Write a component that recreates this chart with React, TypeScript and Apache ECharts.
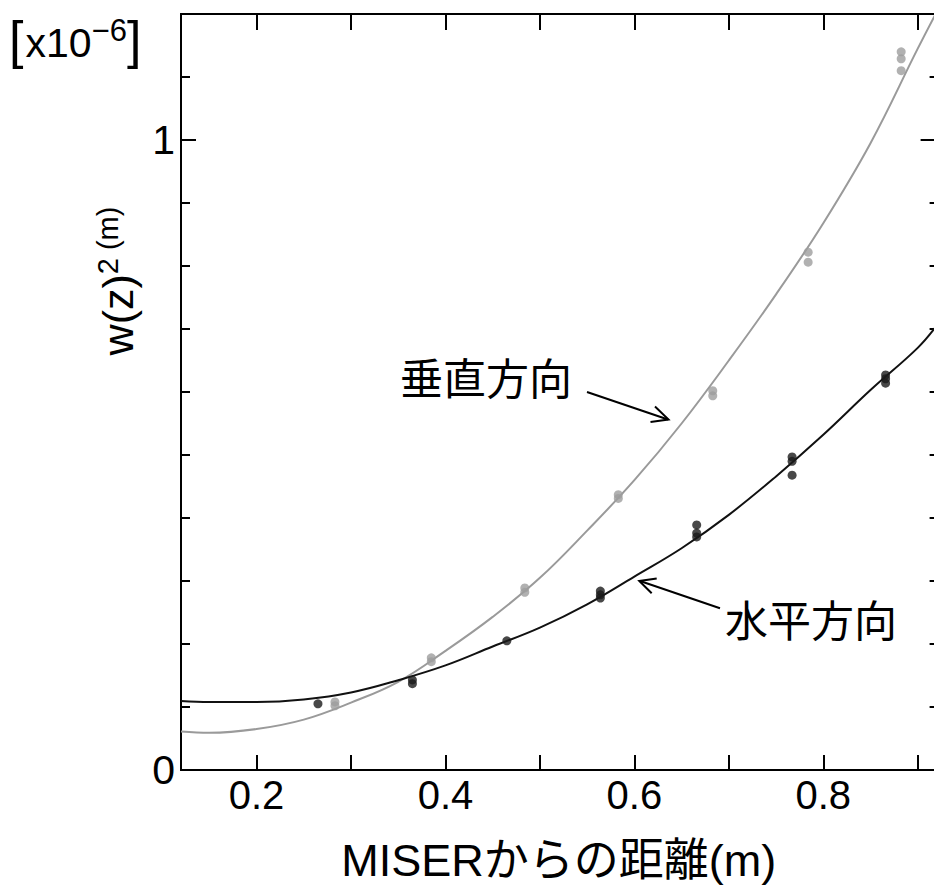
import React, { useEffect, useRef } from 'react';
import * as echarts from 'echarts';

const FONT = '"Liberation Sans", Arial, "Noto Sans CJK JP", sans-serif';
const CJK = '"Noto Sans CJK JP", "Liberation Sans", sans-serif';

// Axis ticks / labels
const xTickValues = [0.2, 0.3, 0.4, 0.5, 0.6, 0.7, 0.8, 0.9];
const xLabelValues = [0.2, 0.4, 0.6, 0.8];
const yMinorTickValues = [0.1, 0.2, 0.3, 0.4, 0.5, 0.6, 0.7, 0.8, 0.9, 1.0, 1.1];
const yMajorTickValues = [0, 1];

// 垂直方向 (vertical) measured points  [x10^-6 m^2]
const vertX = [0.283, 0.283, 0.385, 0.385, 0.484, 0.484, 0.583, 0.583, 0.683, 0.683, 0.784, 0.784, 0.8825, 0.8825, 0.8825];
const vertY = [0.108, 0.102, 0.178, 0.172, 0.289, 0.282, 0.437, 0.431, 0.602, 0.594, 0.822, 0.806, 1.140, 1.129, 1.110];

// 水平方向 (horizontal) measured points
const horzX = [0.265, 0.365, 0.365, 0.465, 0.564, 0.564, 0.564, 0.666, 0.666, 0.666, 0.767, 0.767, 0.767, 0.866, 0.866, 0.866];
const horzY = [0.105, 0.143, 0.137, 0.205, 0.284, 0.278, 0.273, 0.389, 0.376, 0.370, 0.497, 0.490, 0.468, 0.627, 0.621, 0.614];

// Fitted curves
const vertFitX = [0.12, 0.15, 0.2, 0.25, 0.3, 0.35, 0.4, 0.45, 0.5, 0.55, 0.6, 0.65, 0.7, 0.75, 0.8, 0.85, 0.9, 0.92];
const vertFitY = [0.061, 0.059, 0.065, 0.080, 0.107, 0.140, 0.189, 0.243, 0.305, 0.380, 0.460, 0.550, 0.650, 0.755, 0.868, 0.995, 1.145, 1.203];
const horzFitX = [0.12, 0.15, 0.2, 0.25, 0.3, 0.35, 0.4, 0.45, 0.5, 0.55, 0.6, 0.65, 0.7, 0.75, 0.8, 0.85, 0.9, 0.92];
const horzFitY = [0.1095, 0.108, 0.108, 0.112, 0.123, 0.1425, 0.166, 0.196, 0.226, 0.263, 0.307, 0.352, 0.405, 0.466, 0.532, 0.603, 0.670, 0.705];

const zip = (xs: number[], ys: number[]) => xs.map((x, i) => [x, ys[i]]);

export default function App() {
  const ref = useRef<HTMLDivElement>(null);
  useEffect(() => {
    if (!ref.current) return;
    const chart = echarts.init(ref.current, null, { renderer: 'svg' });
    const axisLineStyle = { color: '#000', width: 2 };
    const xBase = {
      type: 'value',
      min: 0.12,
      max: 0.92,
      splitLine: { show: false },
      axisLine: { show: true, onZero: false, lineStyle: axisLineStyle },
    };
    const yBase = {
      type: 'value',
      min: 0,
      max: 1.2,
      offset: 0,
      splitLine: { show: false },
      axisLine: { show: true, onZero: false, lineStyle: axisLineStyle },
    };
    chart.setOption({
      animation: false,
      backgroundColor: '#fff',
      grid: { left: 181, top: 14, width: 755.6, height: 756, containLabel: false, outerBoundsMode: 'none' },
      xAxis: [
        {
          ...xBase,
          position: 'bottom',
          axisTick: { show: true, inside: true, length: 15, customValues: xTickValues, lineStyle: axisLineStyle },
          axisLabel: {
            show: true,
            customValues: xLabelValues,
            fontSize: 40,
            margin: 5,
            color: '#000',
            fontFamily: FONT,
            formatter: (v: number) => v.toFixed(1),
          },
          name: 'MISERからの距離(m)',
          nameLocation: 'middle',
          nameGap: 68,
          nameTextStyle: { fontSize: 45, color: '#000', fontFamily: FONT },
        },
        {
          ...xBase,
          position: 'top',
          axisTick: { show: true, inside: true, length: 16, customValues: xTickValues, lineStyle: axisLineStyle },
          axisLabel: { show: false },
        },
      ],
      yAxis: [
        {
          ...yBase,
          position: 'left',
          axisTick: { show: true, inside: true, length: 9, customValues: yMinorTickValues, lineStyle: axisLineStyle },
          axisLabel: {
            show: true,
            customValues: yMajorTickValues,
            fontSize: 41,
            margin: 6,
            color: '#000',
            fontFamily: FONT,
            formatter: (v: number) => String(Math.round(v)),
          },
        },
        {
          ...yBase,
          position: 'left',
          axisTick: { show: true, inside: true, length: 15, customValues: yMajorTickValues, lineStyle: axisLineStyle },
          axisLabel: { show: false },
        },
        {
          ...yBase,
          position: 'right',
          axisTick: { show: true, inside: true, length: 7, customValues: yMinorTickValues, lineStyle: axisLineStyle },
          axisLabel: { show: false },
        },
        {
          ...yBase,
          position: 'right',
          axisTick: { show: true, inside: true, length: 16, customValues: yMajorTickValues, lineStyle: axisLineStyle },
          axisLabel: { show: false },
        },
      ],
      series: [
        {
          name: '垂直方向 fit',
          type: 'line',
          data: zip(vertFitX, vertFitY),
          smooth: 0.4,
          showSymbol: false,
          symbol: 'none',
          clip: true,
          lineStyle: { color: '#9a9a9a', width: 2 },
          z: 2,
        },
        {
          name: '垂直方向',
          type: 'scatter',
          data: zip(vertX, vertY),
          symbolSize: 9,
          itemStyle: { color: '#9e9e9e' },
          z: 3,
        },
        {
          name: '水平方向 fit',
          type: 'line',
          data: zip(horzFitX, horzFitY),
          smooth: 0.4,
          showSymbol: false,
          symbol: 'none',
          clip: true,
          lineStyle: { color: '#111', width: 2 },
          z: 4,
        },
        {
          name: '水平方向',
          type: 'scatter',
          data: zip(horzX, horzY),
          symbolSize: 9,
          itemStyle: { color: '#1a1a1a' },
          z: 5,
        },
      ],
      graphic: [
        {
          type: 'text',
          x: 9,
          y: 15,
          style: {
            text: '{br|[}{a|x10}{s|−6}{br|]}',
            align: 'left',
            verticalAlign: 'top',
            fill: '#000',
            rich: {
              br: { fontSize: 52, lineHeight: 56, fontFamily: FONT, padding: [0, 2, 6, 0], fill: '#000' },
              a: { fontSize: 41, lineHeight: 56, fontFamily: FONT, fill: '#000' },
              s: { fontSize: 31, lineHeight: 34, verticalAlign: 'top', fontFamily: FONT, fill: '#000' },
            },
          },
        },
        {
          type: 'text',
          x: 118,
          y: 281,
          rotation: Math.PI / 2,
          style: {
            text: '{a|w(z)}{b|2 (m)}',
            align: 'center',
            verticalAlign: 'middle',
            fill: '#000',
            rich: {
              a: { fontSize: 43, lineHeight: 50, fontFamily: FONT, fill: '#000' },
              b: { fontSize: 29, lineHeight: 18, verticalAlign: 'top', fontFamily: FONT, fill: '#000' },
            },
          },
        },
        {
          type: 'text',
          x: 486,
          y: 376,
          style: { text: '垂直方向', fontSize: 43, fontFamily: CJK, fill: '#000', align: 'center', verticalAlign: 'middle' },
        },
        {
          type: 'text',
          x: 811,
          y: 618,
          style: { text: '水平方向', fontSize: 43, fontFamily: CJK, fill: '#000', align: 'center', verticalAlign: 'middle' },
        },
        {
          type: 'line',
          shape: { x1: 587, y1: 392, x2: 668, y2: 419.5 },
          style: { stroke: '#000', lineWidth: 2 },
        },
        {
          type: 'polyline',
          shape: { points: [[655, 406.5], [668.5, 419.5], [650.5, 422]] },
          style: { stroke: '#000', lineWidth: 2, fill: null },
        },
        {
          type: 'line',
          shape: { x1: 720, y1: 608.3, x2: 640, y2: 581 },
          style: { stroke: '#000', lineWidth: 2 },
        },
        {
          type: 'polyline',
          shape: { points: [[656.7, 578.5], [639.3, 581], [651.7, 593.3]] },
          style: { stroke: '#000', lineWidth: 2, fill: null },
        },
      ],
    });
    return () => chart.dispose();
  }, []);
  return <div ref={ref} style={{ position: 'absolute', left: 0, top: 0, width: 934, height: 893 }} />;
}
